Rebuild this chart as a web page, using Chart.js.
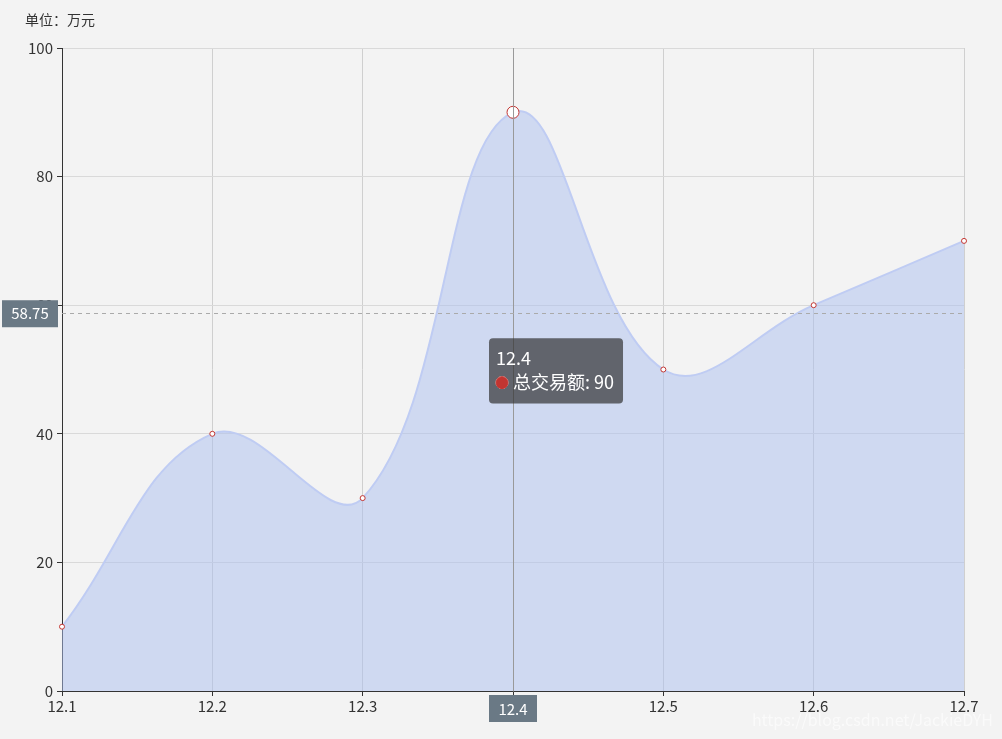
<!DOCTYPE html>
<html>
<head>
<meta charset="utf-8">
<script src="https://cdn.jsdelivr.net/npm/chart.js@4"></script>
<style>
  html, body { margin: 0; padding: 0; background: #f3f3f3; }
  #wrap { width: 1002px; height: 739px; }
</style>
</head>
<body>
<div id="wrap"><canvas id="lineChart" width="1002" height="739"></canvas></div>
<script>
const days = ['12.1', '12.2', '12.3', '12.4', '12.5', '12.6', '12.7'];
const amounts = [10, 40, 30, 90, 50, 60, 70];
const yTicks = [0, 20, 40, 60, 80, 100];
const seriesName = '总交易额';
const unitLabel = '单位：万元';
const activeIndex = 3;
const pointerValue = 58.75;

const FONT = "'Microsoft YaHei', 'Noto Sans CJK SC', 'Noto Sans', sans-serif";

Chart.Tooltip.positioners.pinned = function () {
    const c = this.chart;
    return {
        x: c.scales.x.getPixelForValue(activeIndex) - 24 + 4,
        y: c.scales.y.getPixelForValue(pointerValue) + 25
    };
};

// axis pointer: crosshair lines + their labels
const axisPointer = {
    id: 'axisPointer',
    afterDatasetsDraw(chart) {
        const ctx = chart.ctx;
        const area = chart.chartArea;
        const px = chart.scales.x.getPixelForValue(activeIndex);
        const py = chart.scales.y.getPixelForValue(pointerValue);
        ctx.save();
        ctx.strokeStyle = '#999';
        ctx.lineWidth = 1;
        ctx.beginPath();
        ctx.moveTo(Math.round(px) + 0.5, area.top);
        ctx.lineTo(Math.round(px) + 0.5, area.bottom);
        ctx.stroke();

        ctx.strokeStyle = '#aaa';
        ctx.setLineDash([4, 4]);
        ctx.beginPath();
        ctx.moveTo(area.left, Math.round(py) + 0.5);
        ctx.lineTo(area.right, Math.round(py) + 0.5);
        ctx.stroke();
        ctx.setLineDash([]);

        ctx.font = '15px ' + FONT;
        ctx.textAlign = 'center';
        ctx.textBaseline = 'middle';
        // y label
        ctx.fillStyle = '#6a7985';
        ctx.fillRect(2, py - 13, 56, 27);
        ctx.fillStyle = '#fff';
        ctx.fillText(pointerValue.toString(), 30, py);
        // x label
        ctx.fillStyle = '#6a7985';
        ctx.fillRect(px - 24, area.bottom + 4, 48, 27);
        ctx.fillStyle = '#fff';
        ctx.fillText(days[activeIndex], px, area.bottom + 18);

        // unit name
        ctx.fillStyle = '#333';
        ctx.textAlign = 'left';
        ctx.font = '14px ' + FONT;
        ctx.fillText(unitLabel, 25, 20);

        // watermark
        ctx.fillStyle = 'rgba(255,255,255,0.6)';
        ctx.font = '16px ' + FONT;
        ctx.textAlign = 'right';
        ctx.fillText('https://blog.csdn.net/JackieDYH', 993, 720);
        ctx.restore();
    }
};

const lineChart = new Chart(document.getElementById('lineChart'), {
    type: 'line',
    data: {
        labels: days,
        datasets: [{
            label: seriesName,
            data: amounts,
            borderColor: '#bfccf3',
            borderWidth: 2,
            backgroundColor: 'rgba(172,192,240,0.5)',
            fill: 'origin',
            tension: 0.4,
            pointRadius: 2.5,
            pointBorderWidth: 1,
            pointBackgroundColor: '#fff',
            pointBorderColor: '#c23531',
            pointHoverRadius: 6,
            pointHoverBorderWidth: 1,
            pointHoverBackgroundColor: '#fff',
            pointHoverBorderColor: '#c23531'
        }]
    },
    options: {
        responsive: false,
        animation: false,
        events: [],
        layout: { padding: { left: 0, right: 38, top: 48, bottom: 0 } },
        plugins: {
            legend: { display: false },
            tooltip: {
                enabled: true,
                position: 'pinned',
                xAlign: 'left',
                yAlign: 'top',
                caretSize: 0,
                caretPadding: 0,
                cornerRadius: 4,
                backgroundColor: 'rgba(50,50,50,0.7)',
                titleColor: '#fff',
                bodyColor: '#fff',
                titleFont: { family: FONT, size: 18, weight: 'normal' },
                bodyFont: { family: FONT, size: 18 },
                titleMarginBottom: 3,
                padding: { top: 9, bottom: 10, left: 7, right: 9 },
                displayColors: true,
                usePointStyle: true,
                boxWidth: 12,
                boxHeight: 12,
                boxPadding: 3,
                callbacks: {
                    label: (item) => item.dataset.label + ': ' + item.raw,
                    labelColor: () => ({ borderColor: '#c23531', backgroundColor: '#c23531' }),
                    labelPointStyle: () => ({ pointStyle: 'circle', rotation: 0 })
                }
            }
        },
        scales: {
            x: {
                type: 'category',
                offset: false,
                afterFit: (s) => { s.height = 48; },
                grid: { color: '#cfcfcf', tickColor: '#333', tickLength: 5, offset: false },
                border: { color: '#333' },
                ticks: { color: '#333', font: { family: FONT, size: 15 }, padding: 1, maxRotation: 0 }
            },
            y: {
                min: 0,
                max: 100,
                afterFit: (s) => { s.width = 62; },
                afterBuildTicks: (s) => { s.ticks = yTicks.map(v => ({ value: v })); },
                grid: { color: '#d9d9d9', tickColor: '#333', tickLength: 5 },
                border: { color: '#333' },
                ticks: { color: '#333', font: { family: FONT, size: 15 }, padding: 4 }
            }
        }
    },
    plugins: [axisPointer]
});

const active = [{ datasetIndex: 0, index: activeIndex }];
lineChart.setActiveElements(active);
lineChart.tooltip.setActiveElements(active, { x: 0, y: 0 });
lineChart.update();
</script>
</body>
</html>
